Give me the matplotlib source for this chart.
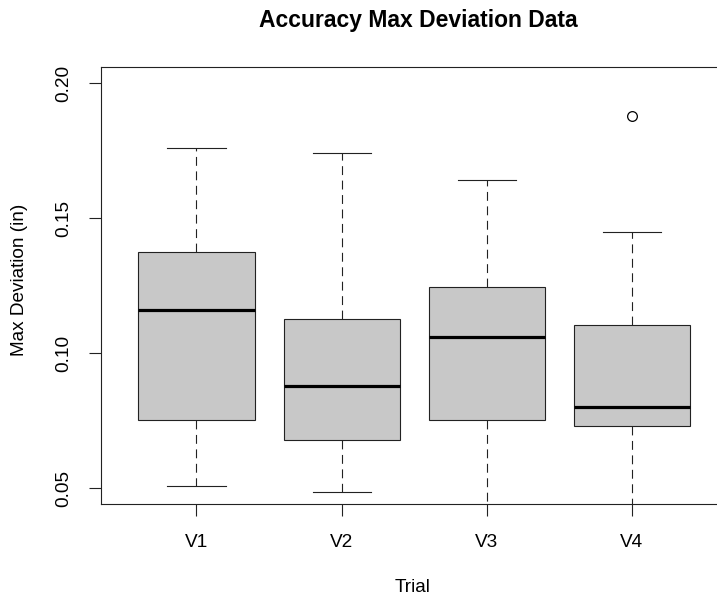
import matplotlib
matplotlib.use("Agg")
import matplotlib.pyplot as plt

plt.rcParams['font.family'] = ['Liberation Sans', 'DejaVu Sans']

# five-number summaries
trials = ['V1', 'V2', 'V3', 'V4']
whisker_low = [0.0509, 0.0487, 0.030, 0.030]
q1 = [0.0754, 0.0679, 0.0754, 0.0729]
medians = [0.1159, 0.0879, 0.1059, 0.0799]
q3 = [0.1375, 0.1128, 0.1244, 0.1104]
whisker_high = [0.1759, 0.1741, 0.1641, 0.1449]
outliers = [[], [], [], [0.1879]]

stats = []
for i, name in enumerate(trials):
    stats.append({'label': name, 'whislo': whisker_low[i], 'q1': q1[i],
                  'med': medians[i], 'q3': q3[i], 'whishi': whisker_high[i],
                  'fliers': outliers[i]})

W, H = 717, 599
fig = plt.figure(figsize=(W / 100, H / 100), dpi=100)
left, right, top, bottom = 100.7, 727.7, 67.3, 504.3
ax = fig.add_axes([left / W, 1 - bottom / H, (right - left) / W, (bottom - top) / H])

edge = '#222222'
ax.bxp(stats, positions=[1, 2, 3, 4], widths=0.8, patch_artist=True,
       boxprops=dict(facecolor='#c8c8c8', edgecolor=edge, linewidth=0.8),
       medianprops=dict(color='black', linewidth=2.3, solid_capstyle='butt'),
       whiskerprops=dict(color=edge, linewidth=0.8, linestyle=(0, (8, 5))),
       capprops=dict(color=edge, linewidth=0.8), capwidths=0.4,
       flierprops=dict(marker='o', markerfacecolor='none', markeredgecolor='black',
                       markersize=7, markeredgewidth=0.9))

ax.set_xlim(0.34, 4.66)
ax.set_ylim(0.044, 0.206)
ax.set_yticks([0.05, 0.10, 0.15, 0.20])
ax.set_yticklabels(['0.05', '0.10', '0.15', '0.20'])
ax.set_xticks([1, 2, 3, 4])
ax.set_xticklabels(trials)

for s in ax.spines.values():
    s.set_linewidth(0.8)
    s.set_color(edge)

ax.tick_params(axis='both', length=8.6, width=0.8, color=edge, labelsize=13.7)
ax.tick_params(axis='x', pad=19)
ax.tick_params(axis='y', pad=17.8)
for lab in ax.get_yticklabels():
    lab.set_rotation(90)
    lab.set_ha('center')
    lab.set_va('center')
for lab in ax.get_xticklabels():
    lab.set_va('center')

fig.text(20 / W, 1 - 280 / H, 'Max Deviation (in)', rotation=90,
         ha='center', va='center', fontsize=13.7)
fig.text(413 / W, 1 - 588 / H, 'Trial', ha='center', va='center', fontsize=13.7)
fig.text(418 / W, 1 - 20 / H, 'Accuracy Max Deviation Data', ha='center',
         va='center', fontsize=16.5, fontweight='bold')

fig.savefig('out.png', dpi=100)
